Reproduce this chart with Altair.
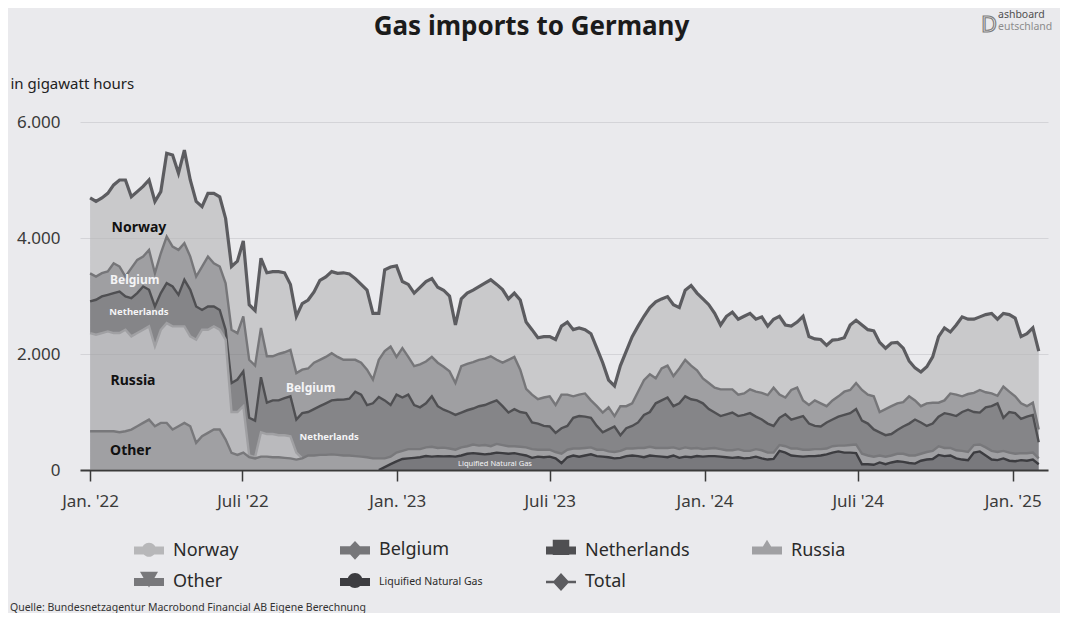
import altair as alt
import pandas as pd

# ---------------- data: weekly readings (GWh per day), week 0 = 2022-01-01 ----------------
first_week = "2022-01-01"
week_count = 162

norway = [
    1300, 1294, 1297, 1348, 1350, 1492, 1664, 1230, 1178, 1210,
    1205, 1237, 1063, 1436, 1578, 1320, 1605, 1320, 1294, 1032,
    1090, 1205, 1202, 1119, 1092, 1240, 1300, 950, 950, 1200,
    1440, 1460, 1420, 1370, 1130, 980, 1140, 1180, 1220, 1370,
    1380, 1405, 1440, 1500, 1480, 1400, 1350, 1370, 1140, 800,
    1400, 1370, 1570, 1150, 1250, 1260, 1330, 1380, 1350, 1300,
    1320, 1300, 1000, 1160, 1220, 1240, 1260, 1300, 1320, 1300,
    1260, 1050, 1100, 1200, 1150, 1120, 1060, 1050, 1030, 1130,
    1180, 1250, 1150, 1150, 1100, 1150, 1000, 860, 470, 520,
    700, 950, 1150, 1130, 1100, 1150, 1320, 1200, 1190, 1230,
    1050, 1200, 1380, 1330, 1370, 1350, 1280, 1110, 1260, 1330,
    1300, 1330, 1310, 1250, 1310, 1190, 1180, 1350, 1250, 1100,
    1130, 1450, 1180, 1060, 1100, 1050, 1040, 980, 930, 1120,
    1080, 1120, 1120, 1130, 1200, 1050, 1090, 1050, 930, 610,
    560, 590, 630, 790, 1140, 1250, 1060, 1200, 1370, 1290,
    1270, 1260, 1340, 1380, 1320, 1260, 1330, 1350, 1150, 1250,
    1290, 1350,
]

belgium = [
    484, 401, 401, 402, 515, 430, 344, 517, 572, 516,
    688, 573, 687, 803, 688, 775, 631, 573, 516, 748,
    860, 745, 748, 801, 918, 800, 950, 1000, 950, 850,
    800, 760, 800, 790, 800, 800, 750, 750, 800, 800,
    800, 815, 740, 686, 670, 550, 550, 610, 410, 640,
    850, 1010, 650, 850, 650, 670, 740, 720, 680, 750,
    740, 700, 550, 800, 800, 800, 800, 800, 800, 700,
    750, 910, 900, 730, 420, 480, 420, 490, 520, 480,
    580, 540, 370, 370, 400, 300, 340, 340, 380, 180,
    500, 380, 390, 530, 600, 650, 430, 550, 550, 520,
    600, 630, 580, 520, 430, 450, 430, 460, 430, 400,
    370, 370, 410, 430, 460, 490, 660, 400, 290, 510,
    520, 270, 320, 440, 400, 280, 330, 350, 400, 400,
    450, 530, 500, 570, 350, 450, 480, 460, 420, 470,
    330, 280, 390, 360, 240, 220, 360, 370, 270, 270,
    330, 390, 260, 220, 130, 540, 350, 290, 270, 180,
    210, 220,
]

netherlands = [
    545, 603, 631, 630, 689, 717, 574, 659, 689, 746,
    631, 689, 632, 688, 688, 544, 803, 803, 573, 342,
    402, 344, 342, 170, 500, 560, 600, 650, 630, 950,
    540, 580, 600, 640, 690, 570, 780, 750, 800, 840,
    890, 930, 950, 964, 980, 1110, 1070, 900, 950, 1060,
    1000, 890, 1000, 920, 940, 760, 720, 760, 870, 720,
    655, 630, 600, 600, 620, 620, 680, 690, 750, 750,
    670, 580, 640, 600, 590, 460, 450, 410, 400, 330,
    440, 410, 530, 560, 540, 510, 410, 300, 380, 440,
    270, 350, 390, 440, 570, 600, 770, 820, 870, 710,
    790, 880, 850, 820, 790, 680, 610, 570, 620, 650,
    570, 620, 650, 560, 530, 500, 460, 470, 550, 500,
    530, 580, 450, 400, 390, 450, 460, 500, 530, 550,
    610, 570, 550, 470, 400, 370, 370, 410, 470, 550,
    620, 540, 450, 470, 510, 600, 580, 590, 670, 730,
    570, 550, 690, 770, 840, 570, 700, 700, 590, 630,
    650, 280,
]

russia = [
    1693, 1664, 1693, 1722, 1693, 1711, 1750, 1607, 1607, 1606,
    1607, 1377, 1606, 1721, 1779, 1722, 1664, 1550, 1780, 1836,
    1778, 1779, 1721, 1722, 705, 740, 800, 30, 20, 420,
    390, 400, 380, 390, 380, 120, 0,
] + [None] * 125

other = [
    668, 668, 668, 668, 668, 650, 668, 697, 754, 812,
    869, 754, 812, 812, 697, 754, 812, 754, 467, 582,
    640, 697, 697, 525, 295, 260, 300, 220, 200, 230,
    230, 220, 220, 210, 200, 180, 200, 250, 250, 260,
    260, 270, 260, 250, 250, 240, 230, 220, 200, 200,
    150, 130, 150, 140, 160, 150, 140, 150, 170, 140,
    150, 130, 120, 140, 130, 150, 140, 160, 130, 150,
    140, 130, 120, 130, 140, 150, 120, 130, 120, 110,
    160, 130, 120, 140, 130, 120, 110, 120, 100, 110,
    120, 130, 120, 140, 160, 150, 140, 150, 160, 140,
    150, 160, 150, 140, 130, 130, 140, 130, 120, 130,
    140, 130, 120, 130, 140, 120, 110, 100, 110, 120,
    130, 120, 110, 120, 110, 100, 110, 100, 120, 130,
    150, 180, 150, 140, 120, 130, 120, 130, 140, 130,
    140, 120, 130, 140, 150, 140, 130, 140, 150, 140,
    130, 120, 140, 150, 140, 130, 140, 130, 120, 130,
    120, 100,
]

lng = [None] * 49 + [0] + [
    50, 100, 150, 190, 200, 210, 220, 240, 230, 240,
    235, 240, 230, 250, 280, 290, 280, 270, 280, 300,
    290, 280, 290, 270, 250, 210, 230, 220, 230, 200,
    120, 220, 250, 230, 250, 270, 240, 230, 220, 200,
    210, 240, 250, 240, 220, 250, 240, 230, 220, 250,
    210, 230, 220, 240, 230, 240, 240, 230, 220, 210,
    220, 200, 210, 230, 200, 180, 190, 330, 300, 250,
    240, 230, 240, 240, 250, 270, 300, 320, 300, 300,
    290, 100, 100, 90, 130, 100, 130, 150, 140, 120,
    110, 160, 180, 190, 260, 240, 250, 200, 180, 170,
    300, 320, 250, 180, 170, 200, 160, 150, 170, 160,
    180, 100,
]

series_names = ["Norway", "Belgium", "Netherlands", "Russia", "Other", "Liquified Natural Gas"]
series_values = [norway, belgium, netherlands, russia, other, lng]
stack_rank = [5, 4, 3, 2, 1, 0]  # bottom of the stack = 0

tick_months = [(2022, 1), (2022, 7), (2023, 1), (2023, 7), (2024, 1), (2024, 7), (2025, 1)]
y_ticks = [0, 2000, 4000, 6000]

# in-chart band labels (date, value in GWh)
dark_labels = ["Norway", "Russia", "Other"]
dark_label_dates = ["2022-02-28", "2022-02-21", "2022-02-18"]
dark_label_values = [4180, 1530, 320]
mid_labels = ["Belgium", "Belgium"]
mid_label_dates = ["2022-02-23", "2022-09-20"]
mid_label_values = [3280, 1420]
small_labels = ["Netherlands", "Netherlands"]
small_label_dates = ["2022-02-28", "2022-10-12"]
small_label_values = [2730, 570]
tiny_labels = ["Liquified Natural Gas"]
tiny_label_dates = ["2023-04-27"]
tiny_label_values = [112]

# ---------------- tables ----------------
dates = pd.date_range(first_week, periods=week_count, freq="7D").strftime("%Y-%m-%d").tolist()
records = []
for name, rank, values in zip(series_names, stack_rank, series_values):
    for d, v in zip(dates, values):
        if v is not None:
            records.append({"date": d, "series": name, "rank": rank, "value": v})
flows = pd.DataFrame(records)

legend_domain = series_names + ["Total"]
legend_range = ["#b7b7b9", "#767679", "#4f4f52", "#a0a0a3", "#78787b", "#3c3c40", "#5c5c60"]

FONT = "Noto Sans"
BG = "#eaeaed"

x_scale = alt.Scale(
    type="utc",
    domain=[alt.DateTime(year=2021, month=12, date=20, utc=True),
            alt.DateTime(year=2025, month=2, date=12, utc=True)],
)
y_scale = alt.Scale(domain=[0, 6000], nice=False)
color_scale = alt.Scale(domain=legend_domain, range=legend_range)

x_axis = alt.Axis(
    values=[alt.DateTime(year=y, month=m, date=1, utc=True) for y, m in tick_months],
    labelExpr="(utcmonth(datum.value) == 0 ? \"Jan. '\" : \"Juli '\") + utcFormat(datum.value, '%y')",
    title=None, grid=False,
    labelFont=FONT, labelFontSize=17, labelColor="#3a3a3a", labelPadding=12,
    labelFlush=False, labelOverlap=False,
    tickSize=11, tickColor="#3a3a3a", tickWidth=1.5,
    domainColor="#3a3a3a", domainWidth=2,
)
y_axis = alt.Axis(
    values=y_ticks,
    labelExpr="replace(format(datum.value, ','), ',', '.')",
    title="in gigawatt hours", titleAngle=0, titleX=-70, titleY=-39,
    titleAlign="left", titleBaseline="middle", titleFont=FONT, titleFontSize=15,
    titleFontWeight="normal", titleColor="#222222",
    labelFont=FONT, labelFontSize=17, labelColor="#3a3a3a", labelPadding=20,
    domain=False, ticks=False, grid=True, gridColor="#d4d4d8", gridWidth=1,
)

RECT = "M-1,-0.27H1V0.27H-1Z"
glyphs = {
    "Norway": RECT + "M-0.47,-0.05A0.47,0.47 0 1,1 0.47,-0.05A0.47,0.47 0 1,1 -0.47,-0.05Z",
    "Belgium": RECT + "M0,-0.62L0.58,0L0,0.62L-0.58,0Z",
    "Netherlands": RECT + "M-0.55,-0.72H0.55V0.3H-0.55Z",
    "Russia": RECT + "M0,-0.72L0.6,0.27L-0.6,0.27Z",
    "Other": RECT + "M-0.6,-0.68L0.6,-0.68L0,0.36Z",
    "Liquified Natural Gas": RECT + "M-0.5,-0.1A0.5,0.5 0 1,1 0.5,-0.1A0.5,0.5 0 1,1 -0.5,-0.1Z",
    "Total": "M-1,-0.09H1V0.09H-1ZM0,-0.6L0.55,0L0,0.6L-0.55,0Z",
}
shape_expr = ""
for name in series_names:
    shape_expr += f"datum.value == '{name}' ? '{glyphs[name]}' : "
shape_expr += f"'{glyphs['Total']}'"

legend_spec = alt.Legend(
    title=None, orient="none", legendX=54, legendY=413,
    direction="horizontal", columns=4, gridAlign="all",
    columnPadding=62, rowPadding=7,
    symbolType={"expr": shape_expr}, symbolSize=900, symbolStrokeWidth=0, symbolOpacity=1,
    labelFont=FONT, labelColor="#2a2a2a", labelOffset=9, labelLimit=400,
    labelFontSize={"expr": "datum.value == 'Liquified Natural Gas' ? 10.5 : 18"},
)

X = alt.X("date:T", scale=x_scale, axis=x_axis)


def Y(field):
    return alt.Y(field, scale=y_scale, axis=y_axis)


stacked = alt.Chart(flows).transform_stack(
    stack="value", groupby=["date"], as_=["lower", "upper"],
    sort=[alt.SortField("rank", order="ascending")], offset="zero",
)

areas = stacked.mark_area(fillOpacity=0.65, strokeWidth=0).encode(
    x=X, y=Y("upper:Q"), y2="lower:Q",
    color=alt.Color("series:N", scale=color_scale, legend=legend_spec),
)

lines = stacked.transform_filter("datum.series != 'Norway'").mark_line(strokeWidth=2.4).encode(
    x=X, y=Y("upper:Q"),
    color=alt.Color("series:N", scale=color_scale, legend=None),
)

total = alt.Chart(flows).transform_aggregate(
    total="sum(value)", groupby=["date"]
).transform_calculate(series="'Total'").mark_line(strokeWidth=3.2).encode(
    x=X, y=Y("total:Q"),
    color=alt.Color("series:N", scale=color_scale, legend=None),
)


def band_labels(texts, dts, vals, **style):
    tbl = pd.DataFrame({"label": texts, "date": dts, "value": vals})
    return alt.Chart(tbl).mark_text(font=FONT, align="center", baseline="middle", **style).encode(
        x=X, y=Y("value:Q"), text="label:N",
    )


lab_dark = band_labels(dark_labels, dark_label_dates, dark_label_values,
                       fontSize=14, fontWeight="bold", color="#111111")
lab_mid = band_labels(mid_labels, mid_label_dates, mid_label_values,
                      fontSize=12, fontWeight="bold", color="#f4f4f6")
lab_small = band_labels(small_labels, small_label_dates, small_label_values,
                        fontSize=9.5, fontWeight="bold", color="#f4f4f6")
lab_tiny = band_labels(tiny_labels, tiny_label_dates, tiny_label_values,
                       fontSize=7.5, color="#f4f4f6")


def decor(text, x, y, **style):
    return alt.Chart(pd.DataFrame({"t": [text]})).mark_text(font=FONT, **style).encode(
        text="t:N", x=alt.value(x), y=alt.value(y)
    )


title = decor("Gas imports to Germany", 451.5, -95, align="center", baseline="middle",
              fontSize=26, fontWeight="bold", color="#1b1b1b")
source = decor("Quelle: Bundesnetzagentur Macrobond Financial AB Eigene Berechnung", -70, 486,
               align="left", baseline="middle", fontSize=10.5, color="#333333")
logo_d = decor("D", 909, -97, align="center", baseline="middle", fontSize=22,
               fill=BG, stroke="#7a7a7a", strokeWidth=1.1)
logo_1 = decor("ashboard", 918, -107.5, align="left", baseline="middle", fontSize=10.5, color="#505050")
logo_2 = decor("eutschland", 918, -95.5, align="left", baseline="middle", fontSize=10.5, color="#8c8c8c")

chart = alt.layer(
    areas, lines, total, lab_dark, lab_mid, lab_small, lab_tiny,
    title, source, logo_d, logo_1, logo_2,
).properties(
    width=968, height=348,
    background=BG,
    padding={"left": 72, "top": 114, "right": 12, "bottom": 143},
    autosize=alt.AutoSizeParams(type="none"),
).configure_view(stroke=None)

chart.save("out.html", embed_options={"renderer": "svg", "actions": False})
